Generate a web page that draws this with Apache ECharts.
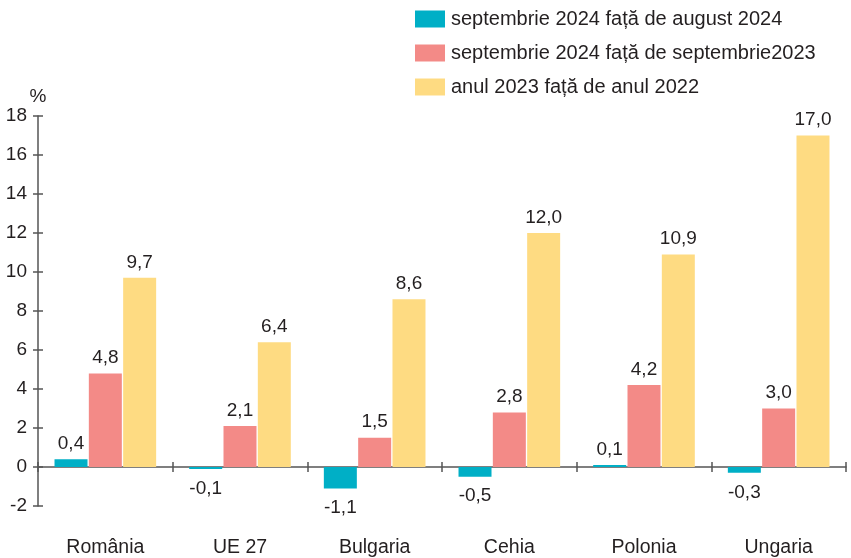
<!DOCTYPE html>
<html>
<head>
<meta charset="utf-8">
<script src="https://cdn.jsdelivr.net/npm/echarts@6/dist/echarts.min.js"></script>
<style>
html,body{margin:0;padding:0;background:#fff;}
#chart{width:851px;height:558px;}
</style>
</head>
<body>
<div id="chart"></div>
<script>
var categories=['România','UE 27','Bulgaria','Cehia','Polonia','Ungaria'];
var seriesNames=['septembrie 2024 față de august 2024','septembrie 2024 față de septembrie2023','anul 2023 față de anul 2022'];
var lunaAnterioara=[0.4,-0.1,-1.1,-0.5,0.1,-0.3];
var anAnterior=[4.8,2.1,1.5,2.8,4.2,3.0];
var anul2023=[9.7,6.4,8.6,12.0,10.9,17.0];
var colors=['#00AFC6','#F38A87','#FEDB82'];

var chart=echarts.init(document.getElementById('chart'));
var txt='#231F20';
var fnt='"Liberation Sans", Arial, sans-serif';

function fmt(p){ return p.value.toFixed(1).replace('.',','); }

function bar(name,data,color){
	return {
		name:name,
		type:'bar',
		data:data.map(function(v){
			return {value:v,label:{position:v<0?'bottom':'top',distance:v<0?10:6}};
		}),
		barWidth:33,
		barGap:'4%',
		itemStyle:{color:color},
		label:{show:true,formatter:fmt,color:txt,fontSize:19,fontFamily:fnt}
	};
}

var option={
	textStyle:{fontFamily:fnt},
	animation:false,
	grid:{left:38,right:5,top:116,bottom:52,containLabel:false},
	legend:{
		orient:'vertical',left:410,top:4,
		itemWidth:30,itemHeight:17,itemGap:14,
		icon:'rect',
		textStyle:{fontSize:20,color:txt,fontFamily:fnt,padding:[0,0,0,1]},
		data:seriesNames
	},
	xAxis:[
		{type:'category',data:categories,axisLine:{show:false,onZero:false},axisTick:{show:false},
			axisLabel:{color:txt,fontSize:19.5,margin:32,fontFamily:fnt}},
		{type:'category',data:categories,position:'bottom',axisLine:{show:true,onZero:true,lineStyle:{color:'#555',width:1.5}},
			axisTick:{show:true,length:5,lineStyle:{color:'#555',width:1.5}},axisLabel:{show:false}},
		{type:'category',data:categories,position:'bottom',axisLine:{show:false,onZero:true},
			axisTick:{show:true,inside:true,length:5,lineStyle:{color:'#555',width:1.5}},axisLabel:{show:false}}
	],
	yAxis:[
		{type:'value',min:-2,max:18,interval:2,name:'%',nameGap:9,
			nameTextStyle:{color:txt,fontSize:19,fontFamily:fnt,align:'center'},
			axisLine:{show:true,lineStyle:{color:'#555',width:1.5}},
			axisTick:{show:true,length:5,lineStyle:{color:'#555',width:1.5}},
			splitLine:{show:false},
			axisLabel:{color:txt,fontSize:19,margin:11,fontFamily:fnt,formatter:function(v){return String(v);}}},
		{type:'value',min:-2,max:18,interval:2,position:'left',
			axisLine:{show:false},
			axisTick:{show:true,inside:true,length:5,lineStyle:{color:'#555',width:1.5}},
			splitLine:{show:false},axisLabel:{show:false}}
	],
	series:[
		bar(seriesNames[0],lunaAnterioara,colors[0]),
		bar(seriesNames[1],anAnterior,colors[1]),
		bar(seriesNames[2],anul2023,colors[2])
	]
};
chart.setOption(option);
</script>
</body>
</html>
